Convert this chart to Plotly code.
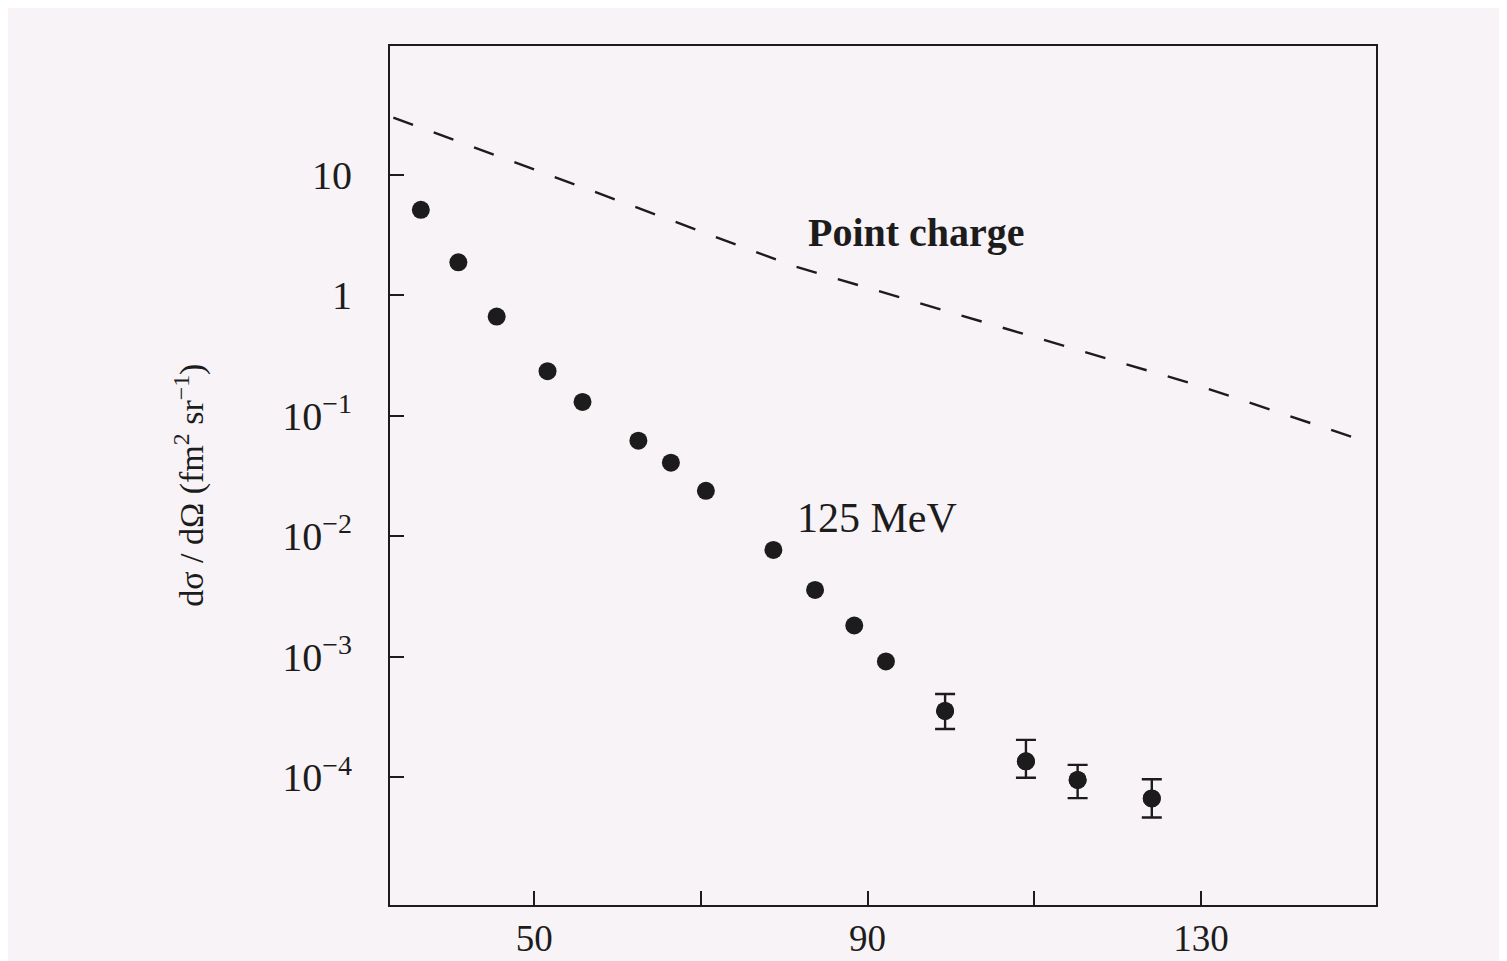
import plotly.graph_objects as go

# Scattering angle (degrees) and measured cross sections
angle_deg = [36.4, 40.9, 45.5, 51.6, 55.8, 62.5, 66.4, 70.6, 78.7, 83.7,
             88.4, 92.2, 99.3, 109.0, 115.2, 124.1]
cross_section = [5.1, 1.87, 0.664, 0.234, 0.130, 0.0621, 0.0408, 0.0238,
                 0.0077, 0.00359, 0.00182, 9.16e-4, 3.56e-4, 1.36e-4,
                 9.53e-5, 6.7e-5]

# Error bars for the large-angle points (upper / lower bounds)
err_angle = [99.3, 109.0, 115.2, 124.1]
err_value = [3.56e-4, 1.36e-4, 9.53e-5, 6.7e-5]
err_upper = [4.92e-4, 2.05e-4, 1.27e-4, 9.66e-5]
err_lower = [2.52e-4, 9.93e-5, 6.73e-5, 4.65e-5]

# Point-charge curve
pc_angle = [33.1, 56.8, 81.1, 105.3, 129.6, 150.4]
pc_value = [29.7, 7.39, 1.746, 0.558, 0.1787, 0.059]

# Axis ticks
x_tickvals = [50, 90, 130]
x_ticktext = ["50", "90", "130"]
x_minor_tickvals = [70, 110]
y_tickvals = [10, 1, 0.1, 0.01, 0.001, 0.0001]
y_ticktext = ["10", "1", "10<sup>−1</sup>", "10<sup>−2</sup>",
              "10<sup>−3</sup>", "10<sup>−4</sup>"]

FONT = "Liberation Serif, Times New Roman, serif"
INK = "#1c1c1c"
BG = "#f8f3f6"

fig = go.Figure()

fig.add_trace(go.Scatter(
    x=pc_angle, y=pc_value, mode="lines",
    line=dict(color=INK, width=2.4, dash="21px,22px"),
    hoverinfo="skip", showlegend=False))

fig.add_trace(go.Scatter(
    x=angle_deg, y=cross_section, mode="markers",
    marker=dict(color=INK, size=18, line=dict(width=0)),
    showlegend=False))

fig.add_trace(go.Scatter(
    x=err_angle, y=err_value, mode="markers",
    marker=dict(color=INK, size=18, line=dict(width=0)),
    error_y=dict(type="data", symmetric=False,
                 array=[u - v for u, v in zip(err_upper, err_value)],
                 arrayminus=[v - l for v, l in zip(err_value, err_lower)],
                 color=INK, thickness=2.4, width=10),
    showlegend=False))

fig.add_annotation(text="<b>Point charge</b>", xref="paper", yref="paper",
                   x=0.5335, y=0.783, showarrow=False,
                   xanchor="center", yanchor="middle",
                   font=dict(family=FONT, size=40, color=INK))
fig.add_annotation(text="125 MeV", xref="paper", yref="paper",
                   x=0.494, y=0.451, showarrow=False,
                   xanchor="center", yanchor="middle",
                   font=dict(family=FONT, size=42, color=INK))
fig.add_annotation(text="dσ / dΩ (fm<sup>2</sup> sr<sup>−1</sup>)",
                   xref="paper", yref="paper", x=-0.2028, y=0.488,
                   xanchor="center", yanchor="middle",
                   textangle=-90, showarrow=False,
                   font=dict(family=FONT, size=34, color=INK))

fig.update_xaxes(range=[32.7, 151.0], tickvals=x_tickvals, ticktext=x_ticktext,
                 ticks="inside", ticklen=14, tickwidth=2, tickcolor=INK,
                 minor=dict(tickvals=x_minor_tickvals, ticks="inside",
                            ticklen=14, tickwidth=2, tickcolor=INK,
                            showgrid=False),
                 showline=True, linecolor=INK, linewidth=2, mirror=True,
                 showgrid=False, zeroline=False, ticklabelstandoff=0,
                 automargin=False,
                 tickfont=dict(family=FONT, size=37, color=INK))
fig.update_yaxes(type="log", range=[-5.058, 2.066], tickvals=y_tickvals,
                 ticktext=y_ticktext,
                 ticks="inside", ticklen=14, tickwidth=2, tickcolor=INK,
                 showline=True, linecolor=INK, linewidth=2, mirror=True,
                 showgrid=False, zeroline=False, ticklabelstandoff=28,
                 automargin=False,
                 tickfont=dict(family=FONT, size=40, color=INK))

# The page body adds an 8px offset, so margins are shifted to compensate
fig.update_layout(width=1499, height=953,
                  margin=dict(l=382, r=131, t=38, b=56),
                  paper_bgcolor=BG, plot_bgcolor=BG,
                  font=dict(family=FONT, color=INK))

fig.write_html("out.html")
